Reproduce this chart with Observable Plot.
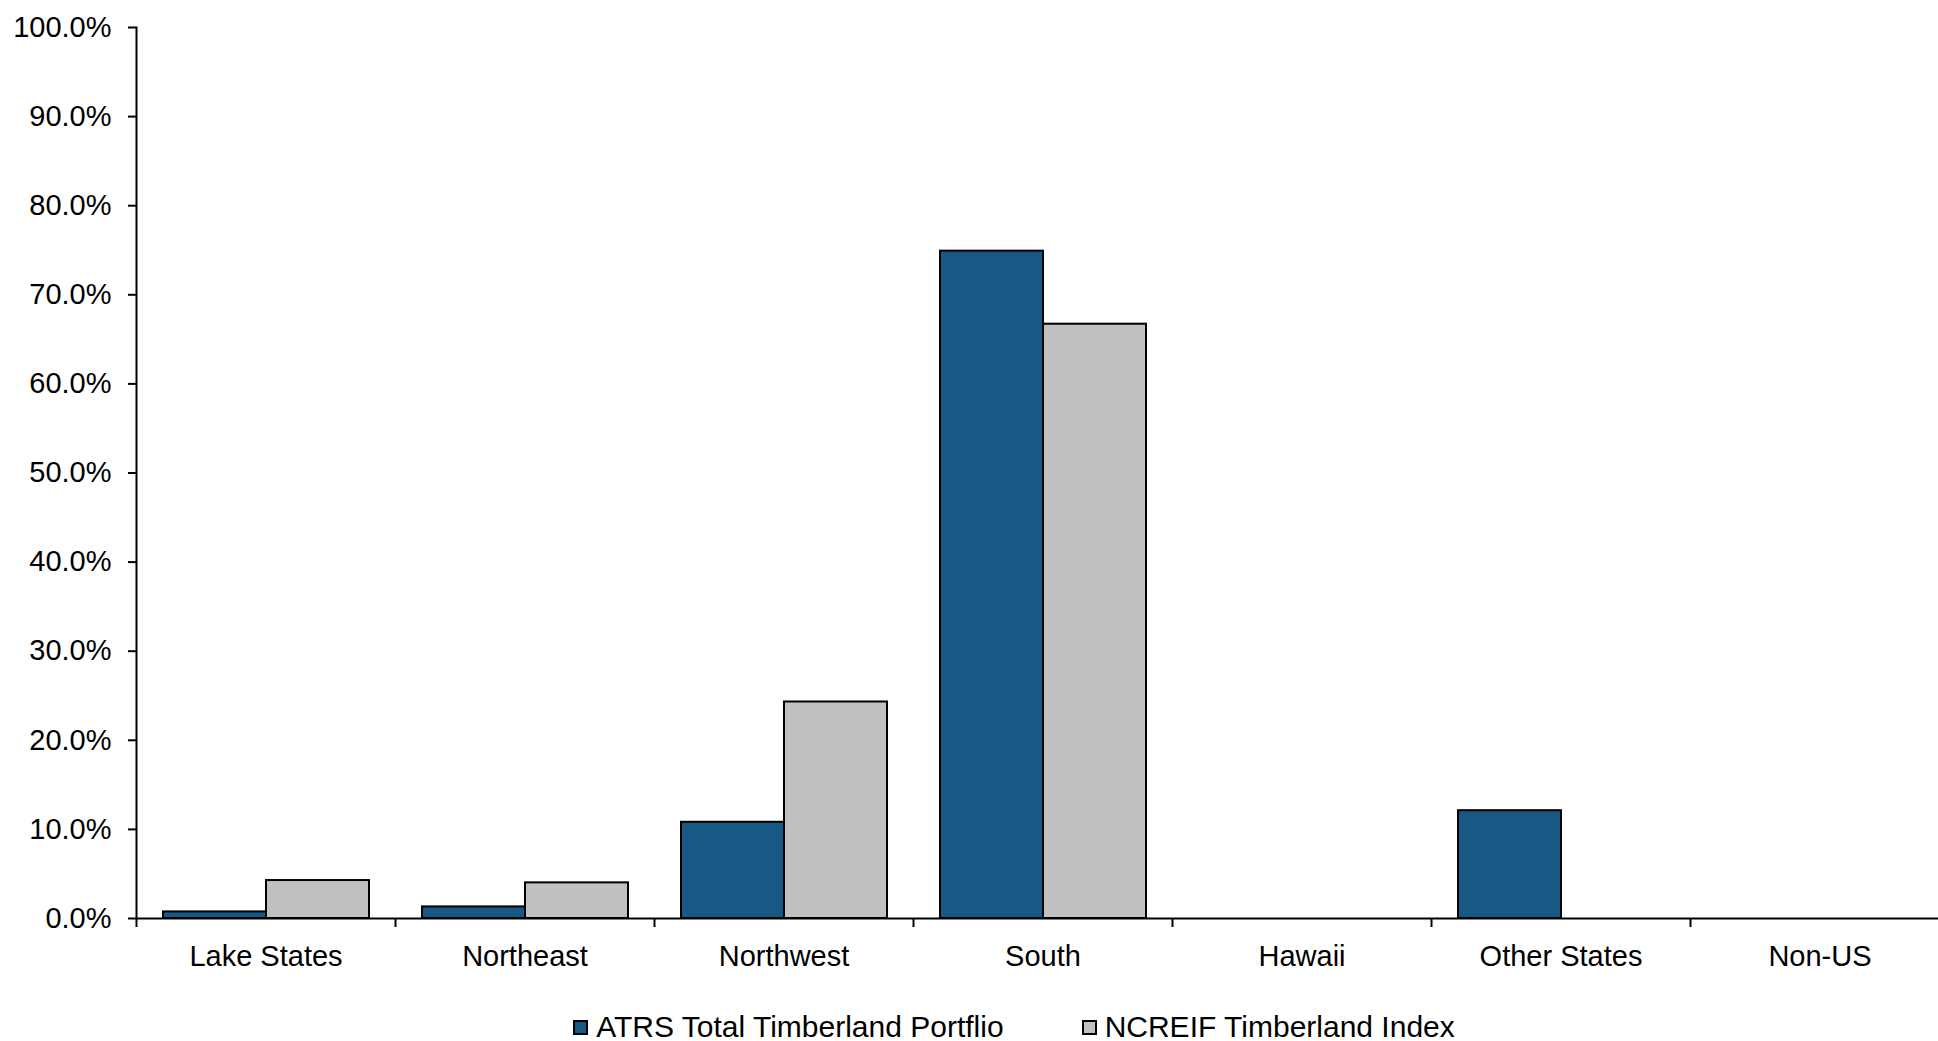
<!DOCTYPE html>
<html>
<head>
<meta charset="utf-8">
<script src="https://cdn.jsdelivr.net/npm/d3@7"></script>
<script src="https://cdn.jsdelivr.net/npm/@observablehq/plot@0.6"></script>
<style>
  html, body { margin: 0; padding: 0; background: #fff; overflow: hidden; }
  #chart svg { display: block; }
  #legend {
    height: 41px; box-sizing: border-box; padding-left: 90px;
    display: flex; justify-content: center; align-items: center;
    font-family: "Liberation Sans", Arial, sans-serif; font-size: 30px; color: #000;
    padding-top: 13px;
  }
  .item { display: flex; align-items: center; margin: 0 39px; white-space: nowrap; }
  .sw { width: 15px; height: 15px; box-sizing: border-box; border: 2px solid #000; margin-right: 8px; }
</style>
</head>
<body>
<div id="chart"></div>
<div id="legend"></div>
<script>
const categories = ["Lake States", "Northeast", "Northwest", "South", "Hawaii", "Other States", "Non-US"];
const seriesNames = ["ATRS Total Timberland Portflio", "NCREIF Timberland Index"];
const atrsValues = [0.0074, 0.013, 0.108, 0.749, 0, 0.121, 0];
const ncreifValues = [0.0426, 0.040, 0.243, 0.667, 0, 0, 0];
const yTickValues = [0, 0.1, 0.2, 0.3, 0.4, 0.5, 0.6, 0.7, 0.8, 0.9, 1.0];
const seriesColors = ["#175884", "#C0C0C0"];

const rows = categories.flatMap((c, i) => [
  {category: c, series: seriesNames[0], value: atrsValues[i]},
  {category: c, series: seriesNames[1], value: ncreifValues[i]}
]);

const W = 1938, H = 1000, ML = 136, MR = -11, MT = 27, MB = 82;
const facetBand = (W - ML - MR) / categories.length;

const chart = Plot.plot({
  width: W,
  height: H,
  marginLeft: ML,
  marginRight: MR,
  marginTop: MT,
  marginBottom: MB,
  style: {fontFamily: "'Liberation Sans', Arial, sans-serif", fontSize: "29px", color: "#000", background: "#fff"},
  fx: {domain: categories, padding: 0, axis: null, label: null},
  x: {domain: seriesNames, paddingInner: 0, paddingOuter: 0.25, axis: null},
  y: {domain: [0, 1]},
  color: {domain: seriesNames, range: seriesColors},
  marks: [
    Plot.barY(rows.filter(d => d.value > 0), {
      fx: "category", x: "series", y: "value", fill: "series",
      stroke: "#000", strokeWidth: 2
    }),
    Plot.ruleY([0], {stroke: "#000", strokeWidth: 2}),
    Plot.frame({anchor: "left", facetAnchor: "left", stroke: "#000", strokeWidth: 2}),
    Plot.axisY({
      ticks: yTickValues, tickFormat: d3.format(".1%"),
      tickSize: 8, tickPadding: 17, strokeWidth: 2, label: null
    }),
    Plot.ruleX(categories, {
      fx: d => d, x: null, y1: 0, y2: 0, insetBottom: -9,
      dx: -facetBand / 2, stroke: "#000", strokeWidth: 2
    }),
    Plot.text(categories, {
      fx: d => d, text: d => d, frameAnchor: "bottom",
      lineAnchor: "middle", dy: 38, fill: "#000"
    })
  ]
});
document.getElementById("chart").appendChild(chart);

const legend = d3.select("#legend");
seriesNames.forEach((name, i) => {
  const item = legend.append("div").attr("class", "item");
  item.append("div").attr("class", "sw").style("background", seriesColors[i]);
  item.append("span").text(name);
});
</script>
</body>
</html>
